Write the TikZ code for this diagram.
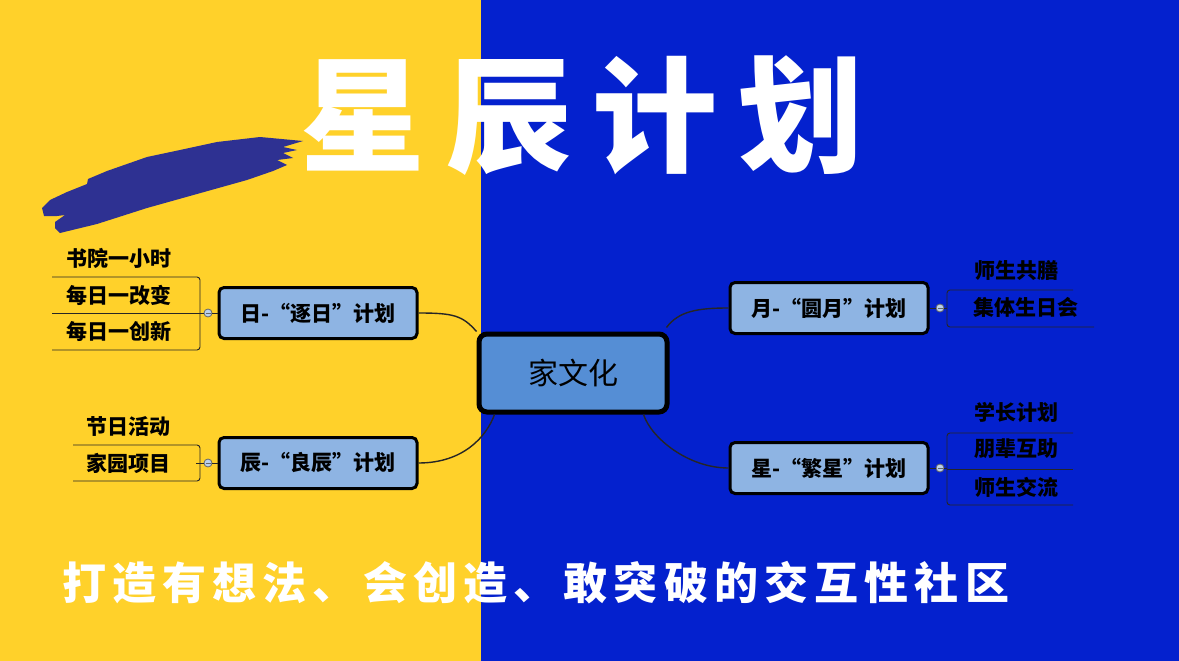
\documentclass[tikz,border=0pt]{standalone}
\usepackage{fontspec}
\usetikzlibrary{calc}
\newfontfamily\cjk{Noto Sans CJK SC}
\newfontfamily\cjktitle[LetterSpace=17]{Noto Sans CJK SC}
\newfontfamily\cjkmotto[LetterSpace=14]{Noto Sans CJK SC}
\definecolor{sunyellow}{HTML}{FFD12A}
\definecolor{deepblue}{HTML}{0421CE}
\definecolor{brushblue}{HTML}{2E3192}
\definecolor{rootblue}{HTML}{558ED5}
\definecolor{boxblue}{HTML}{8EB4E3}

\begin{document}
\begin{tikzpicture}
    [
      x=1pt, y=-1pt,
      root/.style={draw=black, line width=5pt, fill=rootblue, rounded corners=8pt,
        minimum width=188pt, minimum height=78pt, inner sep=0pt, font=\cjk\fontsize{30}{30}\selectfont},
      branch/.style={draw=black, line width=3pt, fill=boxblue, rounded corners=5pt,
        minimum width=198pt, minimum height=51pt, inner sep=0pt, font=\cjk\bfseries\fontsize{21}{21}\selectfont},
      leaf/.style={inner sep=0pt, font=\cjk\bfseries\fontsize{21}{21}\selectfont},
      link/.style={draw=black!85, line width=1.4pt},
      rule/.style={draw=black!85, line width=0.9pt},
      knob/.style={circle, draw=black!60, fill=boxblue!60, line width=0.8pt, minimum size=8pt, inner sep=0pt}
    ]
    % background
    \fill[sunyellow] (0,0) rectangle (481,661);
    \fill[deepblue] (481,0) rectangle (1179,661);
    \useasboundingbox (0,0) rectangle (1179,661);
    % brush stroke
    \fill[brushblue] (42,208) -- (50,200) -- (67,192) -- (87,184) -- (88,179) -- (107,171)
      -- (147,157) -- (180,150) -- (217,142) -- (260,137) -- (303,141) -- (283,147) -- (297,150)
      -- (283,153) -- (293,158) -- (277,160) -- (287,165) -- (273,171) -- (247,180) -- (197,194)
      -- (147,208) -- (97,224) -- (60,233) -- (55,228) -- (55,222) -- (65,215) -- (57,216)
      -- (44,216) -- cycle;
    % title and motto
    \node[text=white, inner sep=0pt, anchor=west, font=\cjktitle\bfseries\fontsize{125}{125}\selectfont] (title) at (300,116) {星辰计划};
    \node[text=white, inner sep=0pt, anchor=west, font=\cjkmotto\bfseries\fontsize{44}{44}\selectfont] (motto) at (62,583) {打造有想法、会创造、敢突破的交互性社区};
    % nodes
    \node [root] (home) at (573,373) {家文化};
    \node [branch] (sun) at (318,313) {日-“逐日”计划};
    \node [branch] (dawn) at (318,463) {辰-“良辰”计划};
    \node [branch] (moon) at (829,308) {月-“圆月”计划};
    \node [branch] (star) at (829,468) {星-“繁星”计划};
    % links
    \draw [link] (sun.east) .. controls +(35,0) and +(-14,-16) .. (home.north west);
    \draw [link] (dawn.east) .. controls +(45,0) and +(-8,22) .. ($(home.south west)+(18,0)$);
    \draw [link] (moon.west) .. controls +(-32,0) and +(12,-16) .. ($(home.north east)+(-3,-4)$);
    \draw [link] (star.west) .. controls +(-40,0) and +(8,24) .. ($(home.south east)+(-26,0)$);
    % leaves, left
    \node [leaf] (l1) at (119,258) {书院一小时};
    \node [leaf] (l2) at (119,295) {每日一改变};
    \node [leaf] (l3) at (119,331) {每日一创新};
    \node [leaf] (l4) at (128,426) {节日活动};
    \node [leaf] (l5) at (128,463) {家园项目};
    % leaves, right
    \node [leaf] (r1) at (1016,270) {师生共膳};
    \node [leaf] (r2) at (1026,307) {集体生日会};
    \node [leaf] (r3) at (1016,412) {学长计划};
    \node [leaf] (r4) at (1016,449) {朋辈互助};
    \node [leaf] (r5) at (1016,487) {师生交流};
    % brackets
    \draw [rule, rounded corners=3pt] (52,277) -- (200,277) -- (200,350) -- (52,350);
    \draw [rule] (52,313) -- (200,313);
    \draw [rule, rounded corners=3pt] (73,445) -- (200,445) -- (200,481) -- (73,481);
    \draw [rule, rounded corners=3pt] (1073,290) -- (947,290) -- (947,327) -- (1094,327);
    \draw [rule, rounded corners=3pt] (1073,433) -- (947,433) -- (947,505) -- (1073,505);
    \draw [rule] (947,469) -- (1073,469);
    % knobs
    \node [knob] (ks) at (208,313) {};
    \node [knob] (kd) at (208,463) {};
    \node [knob] (km) at (940,308) {};
    \node [knob] (kt) at (940,468) {};
    \foreach \k/\b in {ks/sun, kd/dawn} {
        \draw [rule] (\k.east) -- (\b.west);
        \draw [rule] (\k.west) -- ++(-8,0);
        \draw [draw=black!60, line width=0.8pt] ($(\k)+(-2.5,0)$) -- ($(\k)+(2.5,0)$);
    }
    \foreach \k/\b in {km/moon, kt/star} {
        \draw [rule] (\k.west) -- (\b.east);
        \draw [rule] (\k.east) -- ++(3,0);
        \draw [draw=black!60, line width=0.8pt] ($(\k)+(-2.5,0)$) -- ($(\k)+(2.5,0)$);
    }
\end{tikzpicture}
\end{document}
